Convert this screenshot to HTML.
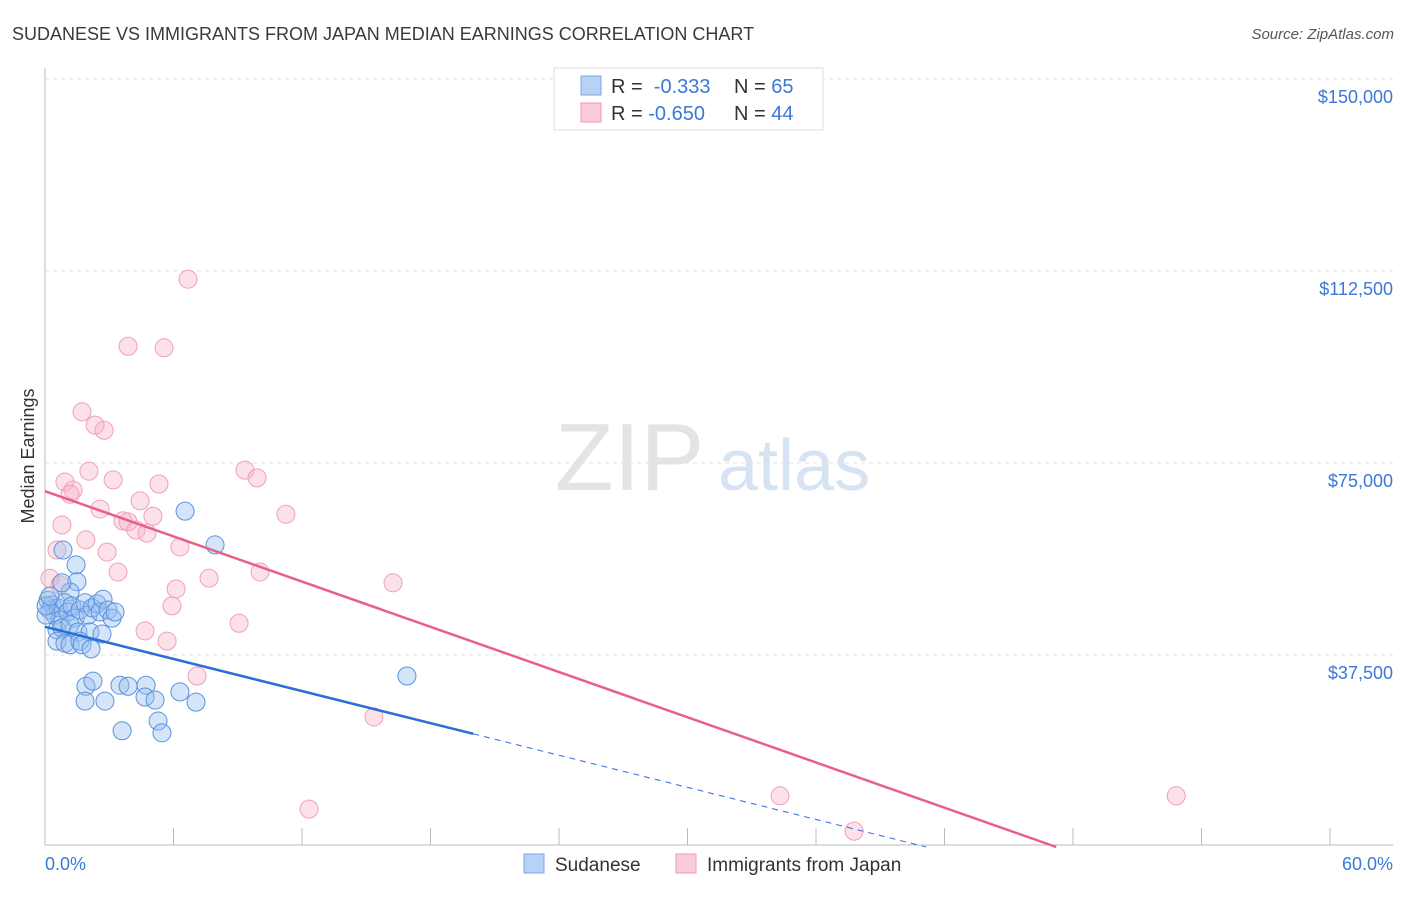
<!DOCTYPE html>
<html><head><meta charset="utf-8"><style>
body{margin:0;background:#fff;font-family:"Liberation Sans",sans-serif}
svg text{font-family:"Liberation Sans",sans-serif}
</style></head><body>
<svg id="c" width="1406" height="892" xmlns="http://www.w3.org/2000/svg">
<text x="12" y="40" font-size="18" fill="#3a3a3a">SUDANESE VS IMMIGRANTS FROM JAPAN MEDIAN EARNINGS CORRELATION CHART</text>
<text x="1394" y="39" font-size="15" fill="#555" font-style="italic" text-anchor="end">Source: ZipAtlas.com</text>
<text x="34" y="456" font-size="18" fill="#333" transform="rotate(-90 34 456)" text-anchor="middle">Median Earnings</text>
<text x="555" y="490" font-size="96" fill="#e4e4e4" font-family="Liberation Serif">ZIP</text>
<text x="718" y="490" font-size="72" fill="#d5e3f3">atlas</text>
<g id="grid"></g><g id="pts"></g><g id="lines"></g>
<rect x="554" y="68" width="269" height="62" fill="#fff" stroke="#ddd"/>
<rect x="581" y="76" width="20" height="19" fill="#b7d2f4" stroke="#7aa8e6"/>
<rect x="581" y="103" width="20" height="19" fill="#fbcbd8" stroke="#f09ab3"/>
<text x="611" y="93" font-size="20" fill="#333">R = <tspan fill="#3b78d8">&#160;-0.333</tspan><tspan x="734">N = </tspan><tspan fill="#3b78d8">65</tspan></text>
<text x="611" y="120" font-size="20" fill="#333">R = <tspan fill="#3b78d8">-0.650</tspan><tspan x="734">N = </tspan><tspan fill="#3b78d8">44</tspan></text>
<text x="45" y="870" font-size="18" fill="#3b78d8">0.0%</text>
<text x="1393" y="870" font-size="18" fill="#3b78d8" text-anchor="end">60.0%</text>
<rect x="524" y="854" width="20" height="19" fill="#b7d2f4" stroke="#7aa8e6"/>
<text x="555" y="871" font-size="19" fill="#333">Sudanese</text>
<rect x="676" y="854" width="20" height="19" fill="#fbcbd8" stroke="#f09ab3"/>
<text x="707" y="871" font-size="19" fill="#333">Immigrants from Japan</text>
</svg>
<script>
const yTicks=[37500,75000,112500,150000];
const yTickLabels=["$37,500","$75,000","$112,500","$150,000"];
const xTicks=[0,6,12,18,24,30,36,42,48,54,60];
const blueX=[6.54,7.94,16.9,0.84,1.45,1.49,1.17,0.79,0.14,0.23,0.33,0.47,0.61,0.7,0.93,1.07,1.26,1.4,1.63,1.87,2.01,2.2,2.43,2.57,2.71,2.94,3.13,3.27,0.56,0.79,1.17,1.54,2.1,2.66,0.56,0.93,1.17,1.63,1.73,2.15,0.05,0.05,0.23,1.91,2.24,3.5,3.88,4.72,6.3,1.87,2.8,4.67,5.14,7.05,3.6,5.28,5.46];
const blueY=[65.6,59.0,33.4,58.0,55.1,51.8,49.8,51.6,48.2,46.3,47.3,45.3,46.7,44.3,47.7,45.9,47.1,44.7,46.3,47.7,45.3,46.7,47.5,45.9,48.4,46.3,44.7,45.9,42.4,42.8,43.4,42.0,42.0,41.6,40.2,39.8,39.5,40.2,39.5,38.7,45.3,47.1,49.0,31.4,32.4,31.6,31.4,31.6,30.3,28.5,28.5,29.3,28.7,28.3,22.7,24.6,22.3];
const pinkX=[6.68,3.88,5.56,1.73,2.34,2.76,2.05,3.18,0.93,1.31,1.17,5.32,9.34,9.9,4.44,2.57,5.04,3.64,3.88,4.25,4.76,0.79,1.91,6.3,0.56,2.9,3.41,7.66,10.04,11.25,6.12,16.25,0.23,0.7,5.93,4.67,5.7,9.06,7.1,15.36,12.33,34.32,37.78,52.82];
const pinkY=[110.9,97.8,97.5,85.0,82.4,81.4,73.4,71.7,71.3,69.7,68.9,70.9,73.6,72.1,67.6,66.0,64.6,63.7,63.5,61.9,61.3,62.9,60.0,58.6,58.0,57.6,53.7,52.5,53.7,65.0,50.4,51.6,52.5,51.2,47.1,42.2,40.2,43.7,33.4,25.4,7.4,10.0,3.1,10.0];
const blueTrend=[43.0,-1.045];
const pinkTrend=[69.5,-1.472];
const X=v=>45+v/60*1285;
const Y=v=>847-v/37500*192;
const Yk=v=>Y(v*1000);
const NS="http://www.w3.org/2000/svg";
function mk(p,t,a){const e=document.createElementNS(NS,t);for(const k in a)e.setAttribute(k,a[k]);p.appendChild(e);return e;}
const g=document.getElementById('grid');
let ax=mk(g,'line',{x1:45,y1:68,x2:45,y2:845,stroke:'#bbb'});


let bx=mk(g,'line',{x1:45,y1:845,x2:1393,y2:845,stroke:'#bbb'});


yTicks.forEach((t,i)=>{
 const l=mk(g,'line',{x1:45,x2:1393,y1:Y(t),y2:Y(t),stroke:'#e2e2e2','stroke-dasharray':'4,4'});
 
 
 const tx=mk(g,'text',{x:1393,y:Y(t)+24,'text-anchor':'end','font-size':18,fill:'#3b78d8'});
 tx.textContent=yTickLabels[i];
 
 
});
xTicks.forEach(t=>{
 const l=mk(g,'line',{x1:X(t),x2:X(t),y1:828,y2:845,stroke:'#bbb'});
 
 
});
const P=document.getElementById('pts');
pinkX.forEach((x,i)=>{
 const c=mk(P,'circle',{cx:X(x),cy:Yk(pinkY[i]),r:9,fill:'rgba(248,180,200,0.4)',stroke:'#f0a0b8','stroke-width':1});
 
 
});
blueX.forEach((x,i)=>{
 const c=mk(P,'circle',{cx:X(x),cy:Yk(blueY[i]),r:9,fill:'rgba(150,190,240,0.4)',stroke:'#5a93dd','stroke-width':1});
 
 
});
const L=document.getElementById('lines');
const bz=-blueTrend[0]/blueTrend[1];
let l1=mk(L,'line',{x1:X(0),y1:Yk(blueTrend[0]),x2:X(20),y2:Yk(blueTrend[0]+blueTrend[1]*20),stroke:'#2a6fd6','stroke-width':2.5});


let l2=mk(L,'line',{x1:X(20),y1:Yk(blueTrend[0]+blueTrend[1]*20),x2:X(bz),y2:Yk(0),stroke:'#2a6fd6','stroke-width':1,'stroke-dasharray':'6,5'});


const pz=-pinkTrend[0]/pinkTrend[1];
let l3=mk(L,'line',{x1:X(0),y1:Yk(pinkTrend[0]),x2:X(pz),y2:Yk(0),stroke:'#e8608a','stroke-width':2.5});


</script>
</body></html>
